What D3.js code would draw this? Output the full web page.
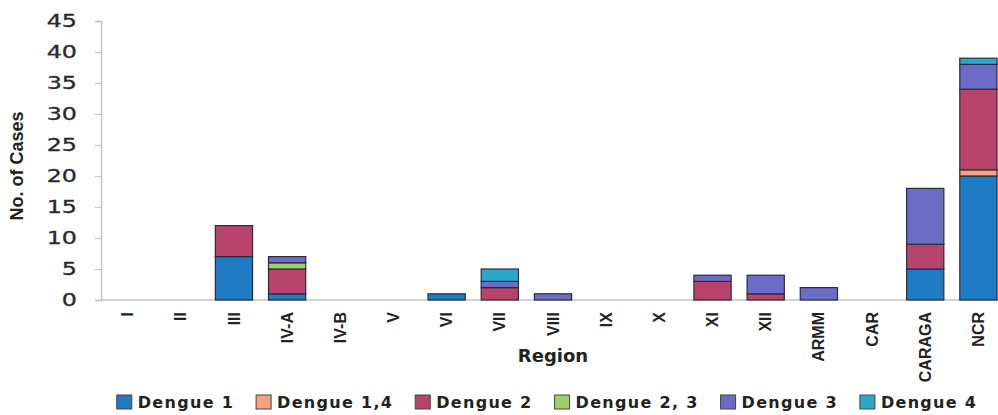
<!DOCTYPE html>
<html><head><meta charset="utf-8">
<script src="https://cdn.jsdelivr.net/npm/d3@7"></script>
<style>body{margin:0;background:#fff}svg{display:block}</style>
</head><body><svg id="c" width="998" height="415"></svg>
<script>
const regions = ["I","II","III","IV-A","IV-B","V","VI","VII","VIII","IX","X","XI","XII","ARMM","CAR","CARAGA","NCR"];
const dengue1  = [0,0,7,1,0,0,1,0,0,0,0,0,0,0,0,5,20];
const dengue14 = [0,0,0,0,0,0,0,0,0,0,0,0,0,0,0,0,1];
const dengue2  = [0,0,5,4,0,0,0,2,0,0,0,3,1,0,0,4,13];
const dengue23 = [0,0,0,1,0,0,0,0,0,0,0,0,0,0,0,0,0];
const dengue3  = [0,0,0,1,0,0,0,1,1,0,0,1,3,2,0,9,4];
const dengue4  = [0,0,0,0,0,0,0,2,0,0,0,0,0,0,0,0,1];
const seriesNames = ["Dengue 1","Dengue 1,4","Dengue 2","Dengue 2, 3","Dengue 3","Dengue 4"];
const seriesColors = ["#1f7cc4","#f4a27f","#b8436b","#9fcf6a","#6c6cc6","#2aa8ca"];
const yTicks = [0,5,10,15,20,25,30,35,40,45];

const seriesValues = [dengue1,dengue14,dengue2,dengue23,dengue3,dengue4];
const table = regions.map((r,i)=>{const o={region:r};seriesNames.forEach((s,j)=>o[s]=seriesValues[j][i]);return o;});
const stack = d3.stack().keys(seriesNames)(table);

const svg = d3.select("#c");
const x = d3.scaleBand().domain(regions).range([101,1005]).paddingInner(0.3).paddingOuter(0.15);
const y = d3.scaleLinear().domain([0,45]).range([300,21]);

// y axis
const yAxis = svg.append("g").attr("transform","translate(101,0)")
  .call(d3.axisLeft(y).tickValues(yTicks).tickSize(6).tickFormat(""));
yAxis.select(".domain").attr("stroke","#c4c4c4").attr("stroke-width",1.5);
yAxis.selectAll(".tick line").attr("stroke","#c4c4c4").attr("stroke-width",1.2);
yTicks.forEach(t=>{
  svg.append("g").attr("transform",`translate(77,${y(t)}) scale(1.4,1)`)
    .append("text").attr("text-anchor","end").attr("dy","0.36em")
    .attr("font-family","DejaVu Sans").attr("font-size",17).attr("fill","#2a2a2a")
    .attr("stroke","#2a2a2a").attr("stroke-width",0.3).text(t);
});
// x axis line
svg.append("line").attr("x1",101).attr("x2",998).attr("y1",y(0)).attr("y2",y(0))
  .attr("stroke","#c4c4c4").attr("stroke-width",1.5);

// bars
svg.append("g").selectAll("g").data(stack).join("g")
  .attr("fill",(d,i)=>seriesColors[i])
  .selectAll("rect").data(d=>d.filter(p=>p[1]-p[0]>0)).join("rect")
  .attr("x",d=>x(d.data.region)).attr("width",x.bandwidth())
  .attr("y",d=>y(d[1])).attr("height",d=>y(d[0])-y(d[1]))
  .attr("stroke","#2b2b3c").attr("stroke-width",1.2);

// x tick labels
regions.forEach(r=>{
  svg.append("text").attr("transform",`translate(${x(r)+x.bandwidth()/2},312) rotate(-90)`)
    .attr("text-anchor","end").attr("dy","0.35em")
    .attr("font-family","Liberation Sans").attr("font-weight","bold").attr("font-size",16)
    .attr("fill","#222").text(r);
});

// axis titles
svg.append("text").attr("transform","translate(23,166) rotate(-90)").attr("text-anchor","middle")
  .attr("font-family","Liberation Sans").attr("font-weight","bold").attr("font-size",18)
  .attr("fill","#222").text("No. of Cases");
svg.append("text").attr("x",553).attr("y",362).attr("text-anchor","middle")
  .attr("font-family","DejaVu Sans").attr("font-weight","bold").attr("font-size",18)
  .attr("fill","#222").text("Region");

// legend
const lg = svg.append("g");
let lx = 0;
const gap = 22;
seriesNames.forEach((s,i)=>{
  const g = lg.append("g").attr("transform",`translate(${lx},0)`);
  g.append("rect").attr("x",0).attr("y",-7).attr("width",15).attr("height",14)
    .attr("fill",seriesColors[i]).attr("stroke","#444").attr("stroke-width",1);
  const t = g.append("text").attr("x",21).attr("dy","0.36em")
    .attr("font-family","DejaVu Sans").attr("font-weight","bold").attr("font-size",16)
    .attr("letter-spacing",1.3).attr("fill","#222").text(s);
  lx += 21 + t.node().getComputedTextLength() + gap;
});
const totalW = lx - gap;
lg.attr("transform",`translate(${547-totalW/2},402)`);
</script></body></html>
